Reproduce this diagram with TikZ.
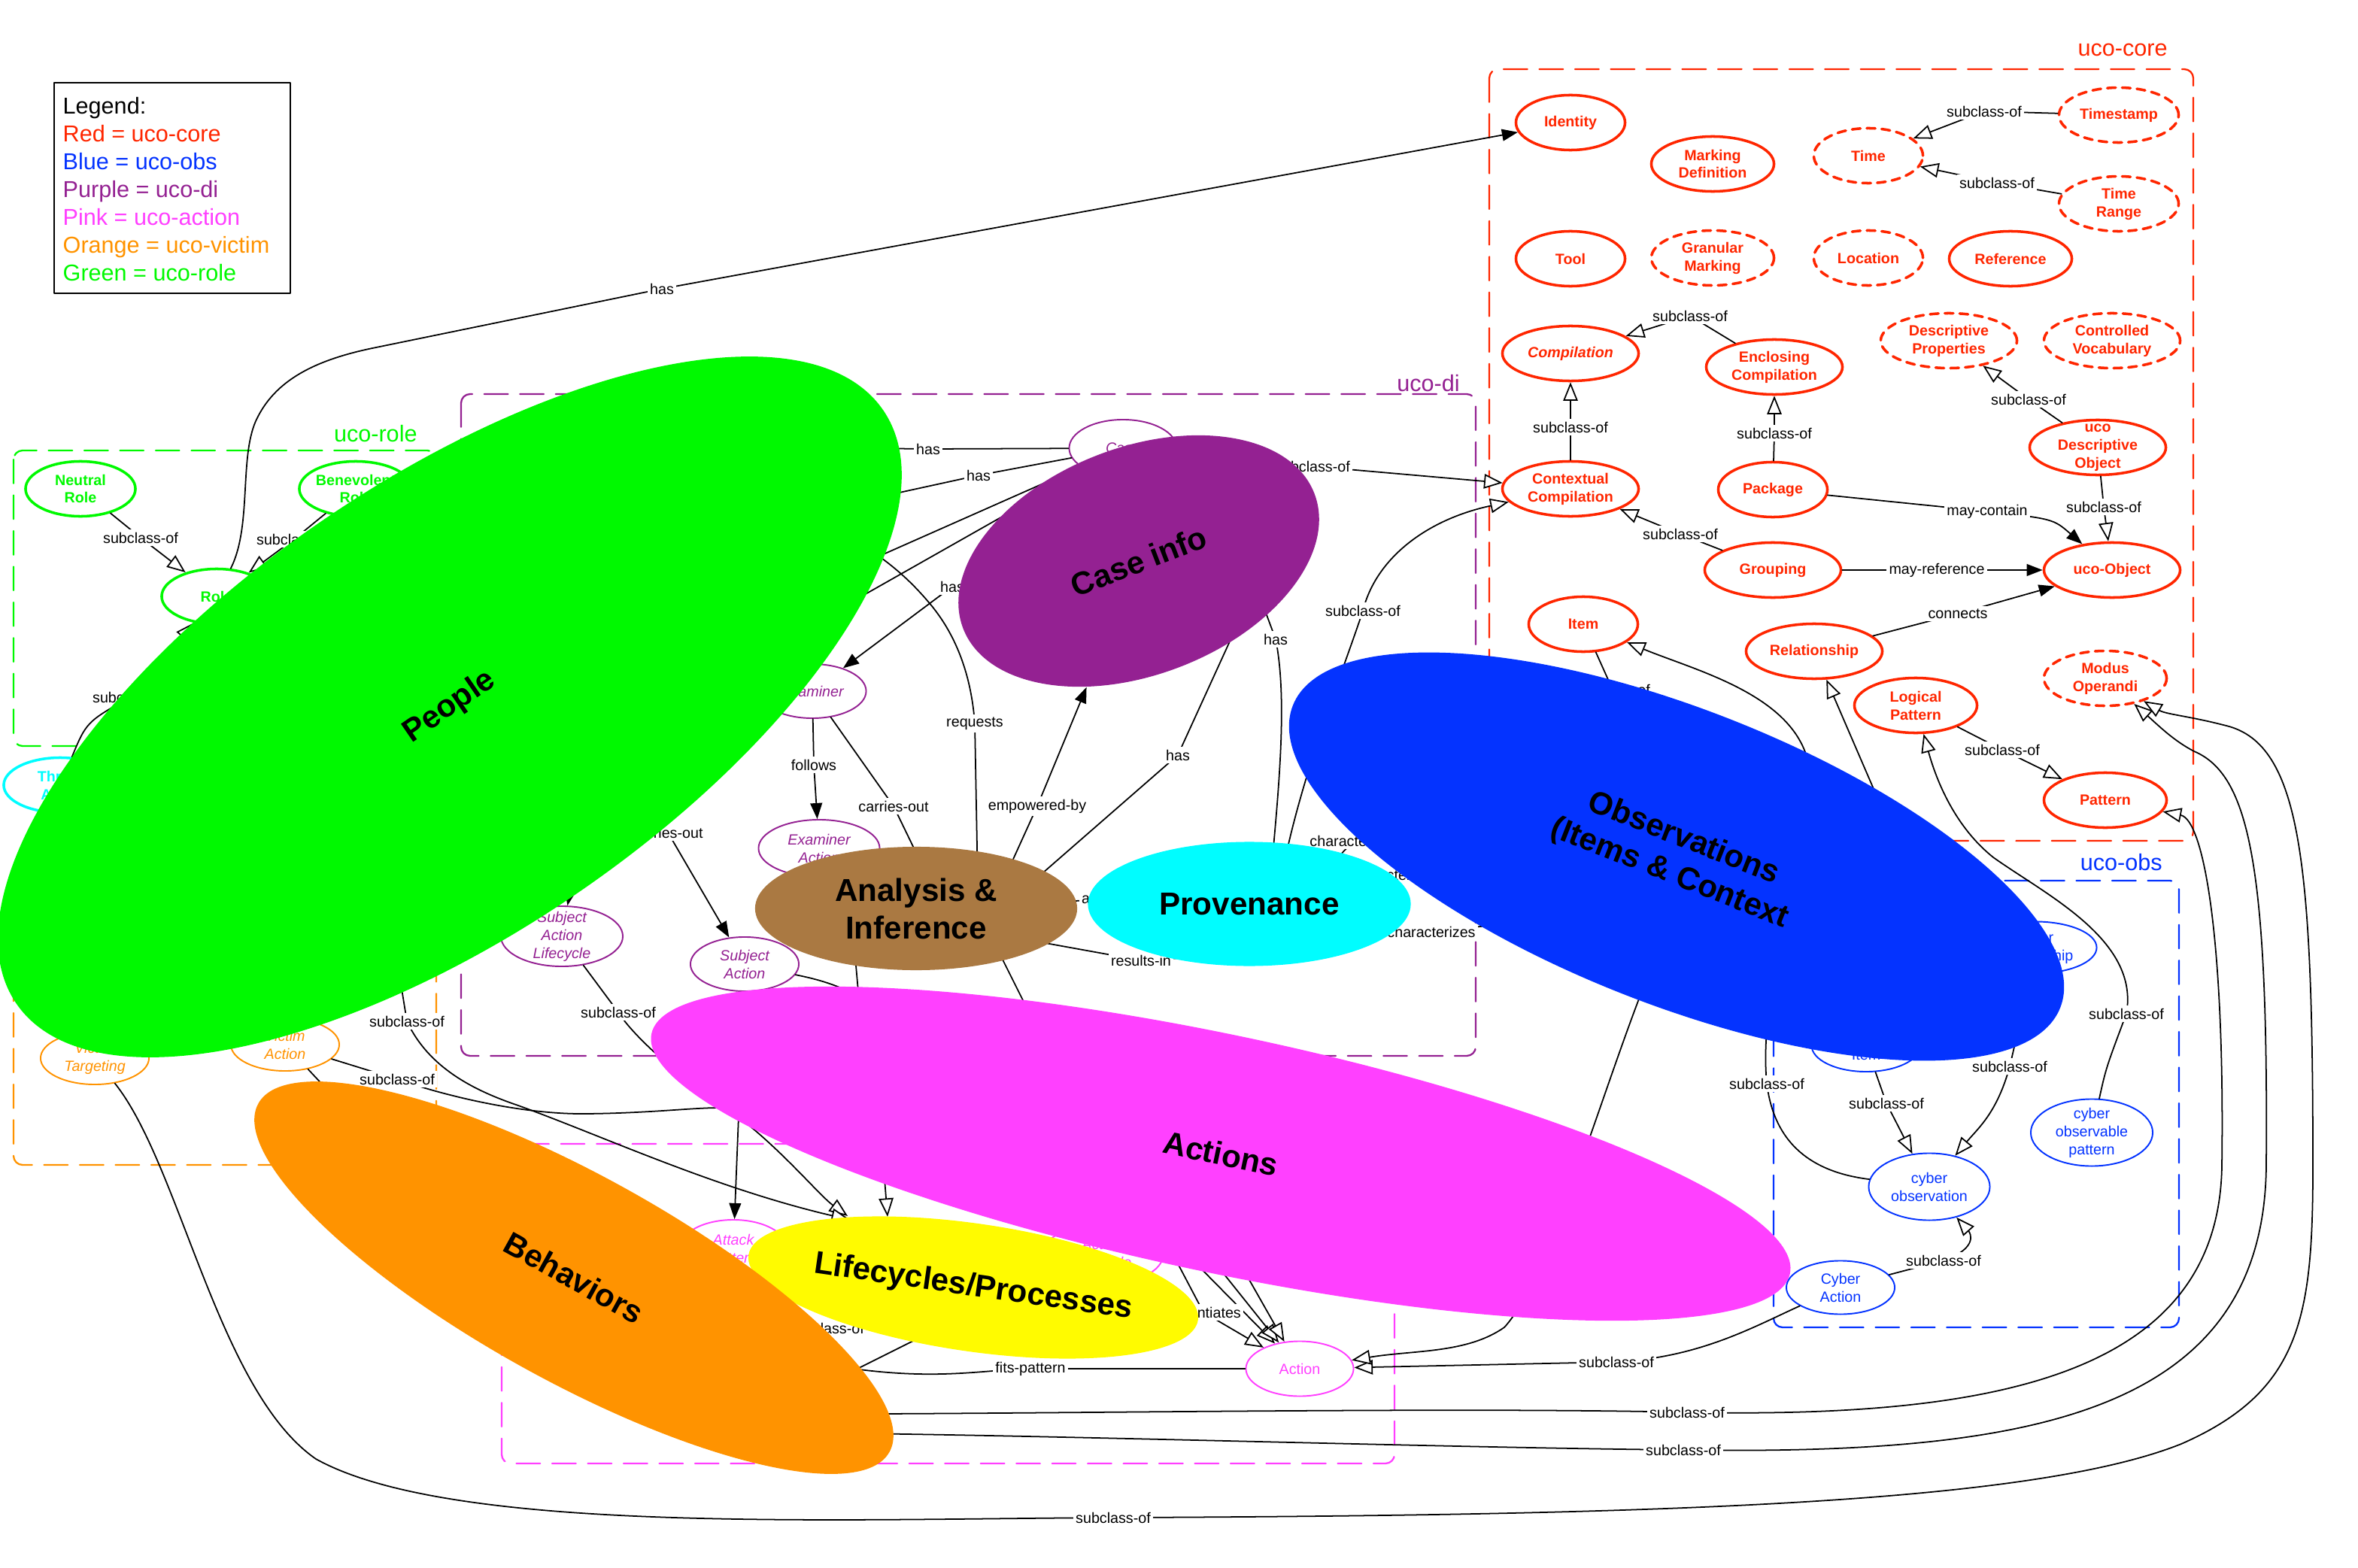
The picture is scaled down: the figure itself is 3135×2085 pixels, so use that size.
\documentclass[tikz,border=0pt]{standalone}
\usepackage{fontspec}
\setmainfont{Liberation Sans}
\usetikzlibrary{shapes.geometric,arrows.meta}

\definecolor{ucored}{RGB}{255,38,0}
\definecolor{ucoblue}{RGB}{4,51,255}
\definecolor{ucopurple}{RGB}{148,33,146}
\definecolor{ucopink}{RGB}{255,64,255}
\definecolor{ucoorange}{RGB}{255,147,0}
\definecolor{ucogreen}{RGB}{0,249,0}
\definecolor{ucocyan}{RGB}{0,253,255}
\definecolor{ucoyellow}{RGB}{255,251,0}
\definecolor{ucobrown}{RGB}{170,121,66}

\pgfdeclarelayer{front}
\pgfsetlayers{main,front}

\begin{document}
\begin{tikzpicture}[x=0.01cm, y=-0.01cm,
	line join=round, line cap=round,
	every node/.style={font=\fontsize{5.6}{6.8}\selectfont, align=center},
	frame/.style={line width=0.65pt, dash pattern=on 9pt off 4.5pt, rounded corners=0.12cm},
	framelbl/.style={anchor=east, font=\fontsize{8.7}{10}\selectfont},
	cls/.style={ellipse, draw, fill=white, inner sep=0pt, minimum height=0.73cm},
	corenode/.style={cls, draw=ucored, text=ucored, line width=1pt, font=\fontsize{5.6}{6.8}\selectfont\bfseries},
	dashednode/.style={corenode, dash pattern=on 3.2pt off 2.4pt},
	rolenode/.style={cls, draw=ucogreen, text=ucogreen, line width=1pt, font=\fontsize{5.6}{6.8}\selectfont\bfseries},
	obsnode/.style={cls, draw=ucoblue, text=ucoblue, line width=0.55pt},
	dinode/.style={cls, draw=ucopurple, text=ucopurple, line width=0.55pt, font=\fontsize{5.6}{6.8}\selectfont\itshape},
	actnode/.style={cls, draw=ucopink, text=ucopink, line width=0.55pt},
	vicnode/.style={cls, draw=ucoorange, text=ucoorange, line width=0.55pt, font=\fontsize{5.6}{6.8}\selectfont\itshape},
	blob/.style={ellipse, inner sep=0pt, font=\fontsize{12}{14.2}\selectfont\bfseries},
	conn/.style={line width=0.5pt},
	subof/.style={conn, -{Triangle[length=7pt, width=5.5pt, fill=white]}},
	hasarr/.style={conn, -{Triangle[length=6pt, width=4.5pt]}},
	lbl/.style={fill=white, inner sep=1pt},
	wa/.style={minimum width=1.45cm}, wb/.style={minimum width=1.63cm}, wc/.style={minimum width=1.81cm}
	]
	\useasboundingbox (0,0) rectangle (3135,2085);

	\begin{pgfonlayer}{front}
	\node[blob, fill=ucogreen, minimum width=13.96cm, minimum height=6cm, rotate=34.4] (people) at (598,940) {People};
	\node[blob, fill=ucopurple, minimum width=5cm, minimum height=3.02cm, rotate=21] (caseinfo) at (1514,746) {Case info};
	\node[blob, fill=ucobrown, minimum width=4.28cm, minimum height=1.64cm] (analysis) at (1218,1208) {Analysis \&\\Inference};
	\node[blob, fill=ucocyan, minimum width=4.29cm, minimum height=1.65cm] (provenance) at (1661,1202) {Provenance};
	\node[blob, fill=ucoblue, minimum width=10.96cm, minimum height=3.92cm, rotate=-21.5] (observations) at (2229,1139) {Observations\\(Items \& Context};
	\node[blob, fill=ucopink, minimum width=15.46cm, minimum height=3.16cm, rotate=-11.9] (actions) at (1623,1534) {Actions};
	\node[blob, fill=ucoyellow, minimum width=5.82cm, minimum height=1.7cm, rotate=-8.2] (lifecycles) at (1294,1712) {Lifecycles/Processes};
	\node[blob, fill=ucoorange, minimum width=9.58cm, minimum height=2.74cm, rotate=-28.9] (behaviors) at (763,1699) {Behaviors};
	\end{pgfonlayer}

	\draw[line width=0.6pt] (72,110) rectangle (386,390);
	\node[anchor=north west, align=left, inner sep=0pt, font=\fontsize{8.7}{10.5}\selectfont] (legend) at (83,129)
	{Legend:\\\textcolor{ucored}{Red = uco-core}\\\textcolor{ucoblue}{Blue = uco-obs}\\\textcolor{ucopurple}{Purple = uco-di}\\\textcolor{ucopink}{Pink = uco-action}\\\textcolor{ucoorange}{Orange = uco-victim}\\\textcolor{ucogreen}{Green = uco-role}};

	\draw[frame, ucored] (1980,92) rectangle (2916,1118);
	\draw[frame, ucoblue] (2358,1171) rectangle (2897,1765);
	\draw[frame, ucopurple] (613,524) rectangle (1962,1404);
	\draw[frame, ucogreen] (18,599) rectangle (580,992);
	\draw[frame, ucoorange] (18,1240) rectangle (580,1549);
	\draw[frame, ucopink] (667,1521) rectangle (1854,1946);
	\node[framelbl, text=ucored] at (2894,66) {uco-core};
	\node[framelbl, text=ucoblue] at (2887,1147) {uco-obs};
	\node[framelbl, text=ucopurple] at (1953,510) {uco-di};
	\node[framelbl, text=ucogreen] at (567,577) {uco-role};
	\node[framelbl, text=ucoorange] at (567,1222) {uco-victim};
	\node[framelbl, text=ucopink] at (1842,1502) {uco-action};

	\node[corenode, wa] (identity) at (2088,163) {Identity};
	\node[corenode, wb] (markdef) at (2277,218) {Marking\\Definition};
	\node[dashednode, wa] (timenode) at (2484,207) {Time};
	\node[dashednode, minimum width=1.59cm] (timestamp) at (2817,153) {Timestamp};
	\node[dashednode, minimum width=1.59cm] (timerange) at (2817,271) {Time\\Range};
	\node[corenode, wa] (tool) at (2088,344) {Tool};
	\node[dashednode, wb] (granmark) at (2277,343) {Granular\\Marking};
	\node[dashednode, wa] (location) at (2484,343) {Location};
	\node[corenode, wb] (reference) at (2673,344) {Reference};
	\node[corenode, wc, font=\fontsize{5.6}{6.8}\selectfont\bfseries\itshape] (compilation) at (2088,470) {Compilation};
	\node[corenode, wc] (enclcomp) at (2359,488) {Enclosing\\Compilation};
	\node[dashednode, wc] (descprops) at (2591,453) {Descriptive\\Properties};
	\node[dashednode, wc] (ctrlvocab) at (2808,453) {Controlled\\Vocabulary};
	\node[corenode, wc] (ctxcomp) at (2088,650) {Contextual\\Compilation};
	\node[corenode, wa] (package) at (2357,651) {Package};
	\node[corenode, wc, label={[text=ucored, font=\fontsize{5.6}{6.8}\selectfont\bfseries]center:uco\\Descriptive\\Object}] (ucodesc) at (2789,595) {};
	\node[corenode, wc] (grouping) at (2357,758) {Grouping};
	\node[corenode, wc] (ucoobject) at (2808,758) {uco-Object};
	\node[corenode, wa] (item) at (2105,830) {Item};
	\node[corenode, wc] (relationship) at (2412,866) {Relationship};
	\node[corenode, wb] (logpattern) at (2547,938) {Logical\\Pattern};
	\node[dashednode, wb] (modusop) at (2799,902) {Modus\\Operandi};
	\node[corenode, wb] (pattern) at (2799,1064) {Pattern};

	\node[obsnode, wb, minimum height=0.69cm] (cyberrel) at (2706,1260) {cyber\\relationship};
	\node[obsnode, wa, minimum height=0.7cm] (cyberitem) at (2481,1390) {Cyber\\Item};
	\node[obsnode, minimum width=1.61cm, minimum height=0.89cm] (cyberobs) at (2565,1578) {cyber\\observation};
	\node[obsnode, minimum width=1.62cm, minimum height=0.89cm, label={[text=ucoblue]center:cyber\\observable\\pattern}] (cyberobspat) at (2781,1506) {};
	\node[obsnode, minimum width=1.44cm, minimum height=0.71cm] (cyberaction) at (2447,1712) {Cyber\\Action};

	\node[dinode, minimum width=1.43cm, minimum height=0.76cm] (case) at (1493,596) {Case};
	\node[dinode, minimum width=1.43cm, minimum height=0.72cm] (examiner) at (1080,919) {Examiner};
	\node[dinode, minimum width=1.61cm, minimum height=0.76cm] (examact) at (1089,1128) {Examiner\\Action};
	\node[dinode, minimum width=1.44cm, minimum height=0.72cm] (subjact) at (990,1282) {Subject\\Action};
	\node[dinode, minimum width=1.62cm, minimum height=0.8cm, label={[text=ucopurple, font=\fontsize{5.6}{6.8}\selectfont\itshape]center:Subject\\Action\\Lifecycle}] (sal) at (747,1245) {};

	\node[actnode, minimum width=1.43cm, minimum height=0.76cm, font=\fontsize{5.6}{6.8}\selectfont\itshape] (attackpat) at (975,1660) {Attack\\Pattern};
	\node[actnode, minimum width=1.61cm, minimum height=0.8cm, font=\fontsize{5.6}{6.8}\selectfont\itshape] (actlife) at (1466,1668) {Action\\Lifecycle};
	\node[actnode, minimum width=1.43cm, minimum height=0.73cm] (action) at (1728,1820) {Action};

	\node[vicnode, minimum width=1.44cm, minimum height=0.7cm] (victimtgt) at (126,1407) {Victim\\Targeting};
	\node[vicnode, minimum width=1.44cm, minimum height=0.7cm] (victimact) at (379,1389) {Victim\\Action};

	\node[rolenode, minimum width=1.46cm] (neutral) at (107,650) {Neutral\\Role};
	\node[rolenode, minimum width=1.46cm] (benevolent) at (473,650) {Benevolent\\Role};
	\node[rolenode, minimum width=1.46cm] (role) at (288,793) {Role};
	\node[cls, draw=ucocyan, text=ucocyan, line width=1pt, minimum width=1.5cm, font=\fontsize{5.6}{6.8}\selectfont\bfseries] (threatactor) at (80,1044) {Threat\\Actor};

	\coordinate (hPpl1) at (1150,596);
	\coordinate (hPpl2) at (1150,665);
	\coordinate (hPpl3) at (1100,770);
	\coordinate (hPpl4) at (1080,830);
	\coordinate (hPpl5) at (1140,720);
	\coordinate (hPpl6) at (850,1040);
	\coordinate (hPpl7) at (770,1120);
	\coordinate (hPpl8) at (530,1290);
	\coordinate (hAna1) at (1330,1180);
	\coordinate (hAna2) at (1370,1175);
	\coordinate (hAna3) at (1320,1250);
	\coordinate (hAna4) at (1135,1250);
	\coordinate (hAna5) at (1300,1180);
	\coordinate (hAna6) at (1340,1245);
	\coordinate (hAna7) at (1380,1200);
	\coordinate (hAna8) at (1250,1200);
	\coordinate (hCI1) at (1650,820);
	\coordinate (hCI2) at (1670,780);
	\coordinate (hProv1) at (1690,1160);
	\coordinate (hProv2) at (1705,1160);
	\coordinate (hProv3) at (1740,1180);
	\coordinate (hProv4) at (1780,1190);
	\coordinate (hProv5) at (1800,1230);
	\coordinate (hProv6) at (1640,1270);
	\coordinate (hProv7) at (1600,1196);
	\coordinate (hObs1) at (1960,1070);
	\coordinate (hObs2) at (2010,1140);
	\coordinate (hObs3) at (2080,1220);
	\coordinate (hObs4) at (2190,1300);
	\coordinate (hObs5) at (2170,1010);
	\coordinate (hAct1) at (1590,1680);
	\coordinate (hAct2) at (1175,1555);
	\coordinate (hAct3) at (1550,1650);
	\coordinate (hAct4) at (1600,1660);
	\coordinate (hAct5) at (1640,1665);
	\coordinate (hAct6) at (1420,1450);
	\coordinate (hAct7) at (1150,1420);
	\coordinate (hAct8) at (1250,1420);
	\coordinate (hLife1) at (1130,1622);
	\coordinate (hLife2) at (1127,1617);
	\coordinate (hLife3) at (1180,1618);
	\coordinate (hLife4) at (1230,1730);
	\coordinate (hLife5) at (1240,1770);
	\coordinate (hBhv1) at (1000,1880);
	\coordinate (hBhv2) at (1000,1905);
	\coordinate (hBhv3) at (950,1780);
	\coordinate (hBhv4) at (1000,1830);
	\coordinate (hBhv5) at (520,1540);
	\coordinate (hBhv6) at (1080,1850);

	\draw[subof] (timestamp) -- (2638,148) node[lbl]{subclass-of} -- (timenode);
	\draw[subof] (timerange) -- (2655,243) node[lbl]{subclass-of} -- (timenode);
	\draw[subof] (enclcomp) -- (2247,420) node[lbl]{subclass-of} -- (compilation);
	\draw[subof] (ctxcomp) -- (2088,568) node[lbl]{subclass-of} -- (compilation);
	\draw[subof] (package) -- (2359,576) node[lbl]{subclass-of} -- (enclcomp);
	\draw[subof] (ucodesc) -- (2697,531) node[lbl]{subclass-of} -- (descprops);
	\draw[subof] (ucodesc) -- (2797,674) node[lbl]{subclass-of} -- (ucoobject);
	\draw[hasarr] (package) -- (2642,680) node[lbl]{may-contain} .. controls (2730,690) .. (ucoobject);
	\draw[hasarr] (grouping) -- (2575,758) node[lbl]{may-reference} -- (ucoobject);
	\draw[hasarr] (relationship) -- (2603,816) node[lbl]{connects} -- (ucoobject);
	\draw[subof] (logpattern) -- (2662,997) node[lbl]{subclass-of} -- (pattern);
	\draw[subof] (grouping) -- (2234,710) node[lbl]{subclass-of} -- (ctxcomp);
	\draw[subof] (case) -- (1745,620) node[lbl]{subclass-of} -- (ctxcomp);
	\draw[subof] (item) -- (2144,917) node[lbl]{subclass-of} -- (hObs5);

	\draw[subof] (cyberobs) .. controls (2420,1560) and (2360,1530) .. (2349,1441) node[lbl]{subclass-of} .. controls (2335,1300) and (2420,1080) .. (2400,1000) .. controls (2370,920) and (2250,890) .. (item);
	\draw[subof] (cyberitem) -- (2508,1467) node[lbl]{subclass-of} -- (cyberobs);
	\draw[subof] (cyberrel) .. controls (2690,1340) .. (2672,1418) node[lbl]{subclass-of} .. controls (2655,1480) and (2630,1500) .. (cyberobs);
	\draw[subof] (cyberrel) .. controls (2560,1200) and (2510,1100) .. (2494,1056) -- (relationship);
	\draw[subof] (cyberobspat) .. controls (2800,1420) .. (2827,1348) node[lbl]{subclass-of} .. controls (2845,1250) and (2720,1190) .. (2650,1140) .. controls (2600,1100) and (2575,1040) .. (logpattern);
	\draw[subof] (cyberaction) -- (2584,1676) node[lbl]{subclass-of} .. controls (2630,1660) and (2620,1640) .. (cyberobs);
	\draw[subof] (cyberaction) .. controls (2330,1765) and (2260,1805) .. (2149,1811) node[lbl]{subclass-of} -- (action);
	\draw[subof] (hObs4) .. controls (2130,1450) and (2060,1700) .. (2000,1765) .. controls (1950,1800) and (1880,1795) .. (action);

	\draw[subof] (hBhv1) .. controls (1300,1882) and (1900,1870) .. (2243,1878) node[lbl]{subclass-of} .. controls (2650,1886) and (2950,1830) .. (2954,1550) .. controls (2958,1250) and (2930,1090) .. (pattern);
	\draw[subof] (hBhv2) .. controls (1300,1905) and (1900,1925) .. (2238,1928) node[lbl]{subclass-of} .. controls (2700,1935) and (3010,1880) .. (3013,1550) .. controls (3016,1150) and (2990,1030) .. (2917,999) .. controls (2890,985) and (2870,965) .. (modusop);
	\draw[subof] (victimtgt) .. controls (240,1550) and (290,1850) .. (420,1940) .. controls (600,2040) and (1100,2020) .. (1480,2018) node[lbl]{subclass-of} .. controls (2200,2015) and (2700,2000) .. (2900,1920) .. controls (3060,1850) and (3075,1750) .. (3075,1550) .. controls (3075,1150) and (3060,990) .. (2960,965) .. controls (2910,952) and (2880,950) .. (modusop);
	\draw[conn] (hBhv3) .. controls (1200,1850) and (1280,1822) .. (1370,1820) node[lbl]{fits-pattern} -- (action);
	\draw[subof] (hBhv4) -- (1099,1766) node[lbl]{subclass-of} -- (hLife4);
	\draw[conn] (hBhv6) -- (hLife5);

	\draw[hasarr] (role) .. controls (335,700) and (318,610) .. (340,560) .. controls (365,505) and (420,478) .. (500,462) -- (880,384) node[lbl]{has} -- (identity);
	\draw[subof] (neutral) -- (187,715) node[lbl]{subclass-of} -- (role);
	\draw[subof] (benevolent) -- (391,717) node[lbl]{subclass-of} -- (role);
	\draw[subof] (threatactor) .. controls (115,960) .. (173,927) node[lbl]{subclass-of} -- (role);

	\draw[conn] (hPpl1) -- (1234,597) node[lbl]{has} -- (case);
	\draw[conn] (hPpl2) -- (1301,632) node[lbl]{has} -- (case);
	\draw[conn] (hPpl3) -- (case);
	\draw[conn] (hPpl4) -- (case);
	\draw[hasarr] (case) .. controls (1400,690) and (1310,760) .. (1266,780) node[lbl]{has} -- (examiner);
	\draw[conn] (hAna5) -- (1296,962) node[lbl]{requests} .. controls (1290,880) and (1260,830) .. (1234,800) .. controls (1200,760) and (1170,740) .. (hPpl5);
	\draw[hasarr] (examiner) -- (1082,1017) node[lbl]{follows} -- (examact);
	\draw[hasarr] (examiner) -- (1188,1072) node[lbl]{carries-out} -- (hAna8);
	\draw[hasarr] (hPpl6) -- (888,1107) node[lbl]{carries-out} -- (subjact);
	\draw[hasarr] (hPpl7) -- (sal);
	\draw[hasarr] (hAna1) -- (1379,1072) node[lbl]{empowered-by} -- (caseinfo);
	\draw[conn] (hAna2) -- (1566,1004) node[lbl]{has} -- (hCI1);
	\draw[conn] (hCI2) -- (1696,850) node[lbl]{has} .. controls (1712,930) and (1700,1050) .. (hProv1);
	\draw[subof] (hProv2) .. controls (1730,1030) and (1790,880) .. (1812,812) node[lbl]{subclass-of} .. controls (1830,740) and (1900,690) .. (ctxcomp);
	\draw[conn] (hProv3) -- (1800,1118) node[lbl]{characterizes} -- (hObs1);
	\draw[conn] (hProv4) -- (1853,1163) node[lbl]{characterizes} -- (hObs2);
	\draw[conn] (hProv5) -- (1903,1239) node[lbl]{characterizes} -- (hObs3);
	\draw[hasarr] (hAna6) -- (1517,1277) node[lbl]{results-in} -- (hProv6);
	\draw[conn] (hAna7) -- (1477,1196) node[lbl]{analyzes} -- (hProv7);
	\draw[conn] (hAna3) -- (hAct6);
	\draw[conn] (hAna4) -- (hAct7);
	\draw[conn] (subjact) .. controls (1100,1305) and (1170,1320) .. (hAct8);
	\draw[hasarr] (subjact) -- (attackpat);
	\draw[subof] (sal) -- (822,1346) node[lbl]{subclass-of} .. controls (850,1390) and (940,1460) .. (984,1487) .. controls (1040,1530) and (1090,1590) .. (hLife2);
	\draw[subof] (hPpl8) -- (541,1358) node[lbl]{subclass-of} .. controls (570,1420) and (630,1450) .. (689,1470) .. controls (800,1510) and (950,1580) .. (hLife1);
	\draw[subof] (hAct2) -- (hLife3);
	\draw[subof] (victimact) -- (528,1435) node[lbl]{subclass-of} .. controls (600,1460) and (700,1482) .. (779,1481) .. controls (880,1480) and (940,1470) .. (975,1474) .. controls (1200,1500) and (1450,1600) .. (hAct1) -- (action);
	\draw[conn] (victimact) -- (hBhv5);
	\draw[subof] (hAct3) -- (1600,1745) node[lbl]{instantiates} -- (action);
	\draw[subof] (hAct4) -- (action);
	\draw[subof] (hAct5) -- (action);
\end{tikzpicture}
\end{document}
